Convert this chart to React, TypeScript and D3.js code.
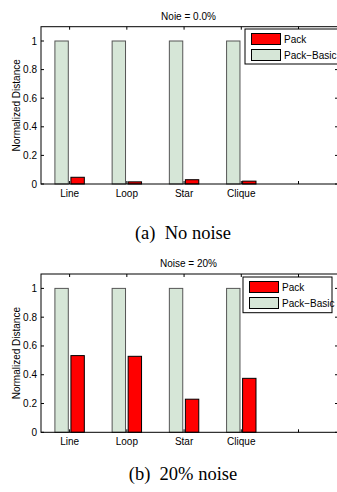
import React from "react";
import * as d3 from "d3";

// categories on the x axis (MATLAB bar positions 1..5, the 5th is empty)
const categories = ["Line", "Loop", "Star", "Clique"];
const xTicks = [1, 2, 3, 4, 5];
const yTicks = [0, 0.2, 0.4, 0.6, 0.8, 1];

// series values, one array per panel
const packNoNoise = [0.047, 0.015, 0.03, 0.02];
const basicNoNoise = [1, 1, 1, 1];
const packNoise20 = [0.533, 0.528, 0.23, 0.375];
const basicNoise20 = [1, 1, 1, 1];

const seriesNames = ["Pack", "Pack\u2212Basic"];
const titles = ["Noie = 0.0%", "Noise = 20%"];
const captions = ["(a)\u00a0\u00a0No noise", "(b)\u00a0\u00a020% noise"];

const RED = "#ff0000";
const GREEN = "#d6e6d7";
const FONT = "Arial, 'Liberation Sans', Helvetica, sans-serif";

interface PanelProps {
  top: number;
  bottom: number;
  pack: number[];
  basic: number[];
  title: string;
  caption: string;
  captionY: number;
  legend: { x: number; y: number; w: number; h: number };
}

const left = 41;
const right = 338;

const Panel: React.FC<PanelProps> = ({ top, bottom, pack, basic, title, caption, captionY, legend }) => {
  const x = d3.scaleLinear().domain([0.5, 5.69]).range([left, right]);
  const y = d3.scaleLinear().domain([0, 1.1]).range([bottom, top]);
  const barW = x(0.234) - x(0);
  const off = x(0.14) - x(0);

  return (
    <g fontFamily={FONT} fontSize={10}>
      <text x={(left + right) / 2 - 1} y={top - 7} textAnchor="middle">{title}</text>

      {/* bars: Pack-Basic left, Pack right */}
      {basic.map((v, i) => (
        <rect
          key={"b" + i}
          x={x(i + 1) - off - barW / 2}
          y={y(v)}
          width={barW}
          height={y(0) - y(v)}
          fill={GREEN}
          stroke="#555"
          strokeWidth={1}
        />
      ))}
      {pack.map((v, i) => (
        <rect
          key={"p" + i}
          x={x(i + 1) + off - barW / 2}
          y={y(v)}
          width={barW}
          height={y(0) - y(v)}
          fill={RED}
          stroke="#000"
          strokeWidth={1}
        />
      ))}

      {/* axes box */}
      <rect x={left} y={top} width={right - left} height={bottom - top} fill="none" stroke="#000" strokeWidth={1} />

      {yTicks.map((t) => (
        <g key={"y" + t}>
          <line x1={left} x2={left + 3} y1={y(t)} y2={y(t)} stroke="#000" />
          <line x1={right - 3} x2={right} y1={y(t)} y2={y(t)} stroke="#000" />
          <text x={left - 4} y={y(t)} dy="0.35em" textAnchor="end">{t}</text>
        </g>
      ))}
      {xTicks.map((t) => (
        <g key={"x" + t}>
          <line x1={x(t)} x2={x(t)} y1={bottom} y2={bottom - 3} stroke="#000" />
          <line x1={x(t)} x2={x(t)} y1={top} y2={top + 3} stroke="#000" />
          {categories[t - 1] && (
            <text x={x(t)} y={bottom + 12.5} textAnchor="middle">{categories[t - 1]}</text>
          )}
        </g>
      ))}

      <text
        transform={`translate(19.5,${(top + bottom) / 2}) rotate(-90)`}
        textAnchor="middle"
      >
        Normalized Distance
      </text>

      {/* legend */}
      <rect x={legend.x} y={legend.y} width={legend.w} height={legend.h} fill="#fff" stroke="#000" />
      {seriesNames.map((name, i) => (
        <g key={name}>
          <rect
            x={legend.x + 6.5}
            y={legend.y + 4.5 + i * 16}
            width={29}
            height={11}
            fill={i === 0 ? RED : GREEN}
            stroke="#000"
          />
          <text x={legend.x + 39} y={legend.y + 10 + i * 16} dy="0.35em">{name}</text>
        </g>
      ))}

      <text
        x={183}
        y={captionY}
        textAnchor="middle"
        fontFamily="'Liberation Serif', 'Times New Roman', serif"
        fontSize={18.5}
      >
        {caption}
      </text>
    </g>
  );
};

export default function App() {
  return (
    <svg
      width={337}
      height={492}
      style={{ position: "absolute", left: 0, top: 0, background: "#fff" }}
    >
      <Panel
        top={26.7}
        bottom={184}
        pack={packNoNoise}
        basic={basicNoNoise}
        title={titles[0]}
        caption={captions[0]}
        captionY={239}
        legend={{ x: 245, y: 29, w: 93, h: 35 }}
      />
      <Panel
        top={274}
        bottom={432.3}
        pack={packNoise20}
        basic={basicNoise20}
        title={titles[1]}
        caption={captions[1]}
        captionY={480}
        legend={{ x: 243, y: 277, w: 89, h: 35.7 }}
      />
    </svg>
  );
}
